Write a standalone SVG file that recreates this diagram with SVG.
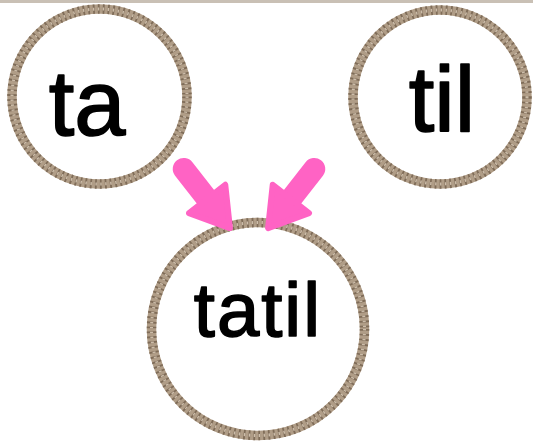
<svg xmlns="http://www.w3.org/2000/svg" xmlns:xlink="http://www.w3.org/1999/xlink" width="533" height="441" viewBox="0 0 533 441">
<style>
.rope{fill:#ffffff;stroke:#b09d87;stroke-width:9.5}
.ropeDark{fill:none;stroke:#7f6c58;stroke-width:9.5;stroke-dasharray:1.8 3.2}
.ropeLight{fill:none;stroke:#cdbeab;stroke-width:3;stroke-dasharray:1.4 3.6}
.lbl{font-family:"Liberation Sans","DejaVu Sans",sans-serif;fill:#000;stroke:#000;stroke-width:1.6;stroke-linejoin:round;text-anchor:middle}
.pink{fill:#ff63c4;stroke:#ff63c4}
</style>
<defs>
<g id="arrow">
<line x1="-80" y1="0" x2="-40" y2="0" stroke="#ff63c4" stroke-width="22" stroke-linecap="round"/>
<polygon class="pink" points="-42,-23 -5,0 -42,23" stroke-width="6" stroke-linejoin="round"/>
</g>
</defs>
<rect x="0" y="0" width="533" height="3" fill="#c9c0b5"/>
<g id="node-ta">
<circle class="rope" cx="99.5" cy="96.5" r="87.5"/>
<circle class="ropeDark" cx="99.5" cy="96.5" r="87.5"/>
<circle class="ropeLight" cx="99.5" cy="96.5" r="87.5"/>
<text class="lbl" x="87" y="135" font-size="92">ta</text>
</g>
<g id="node-til">
<circle class="rope" cx="440" cy="97" r="87"/>
<circle class="ropeDark" cx="440" cy="97" r="87"/>
<circle class="ropeLight" cx="440" cy="97" r="87"/>
<text class="lbl" x="442" y="131" font-size="92">til</text>
</g>
<g id="node-tatil">
<circle class="rope" cx="258" cy="329" r="106.5"/>
<circle class="ropeDark" cx="258" cy="329" r="106.5"/>
<circle class="ropeLight" cx="258" cy="329" r="106.5"/>
<text class="lbl" x="258" y="336" font-size="76" letter-spacing="2">tatil</text>
</g>
<g id="connectors">
<use xlink:href="#arrow" transform="translate(233,232) rotate(52)"/>
<use xlink:href="#arrow" transform="translate(265,232) rotate(128)"/>
</g>
</svg>
